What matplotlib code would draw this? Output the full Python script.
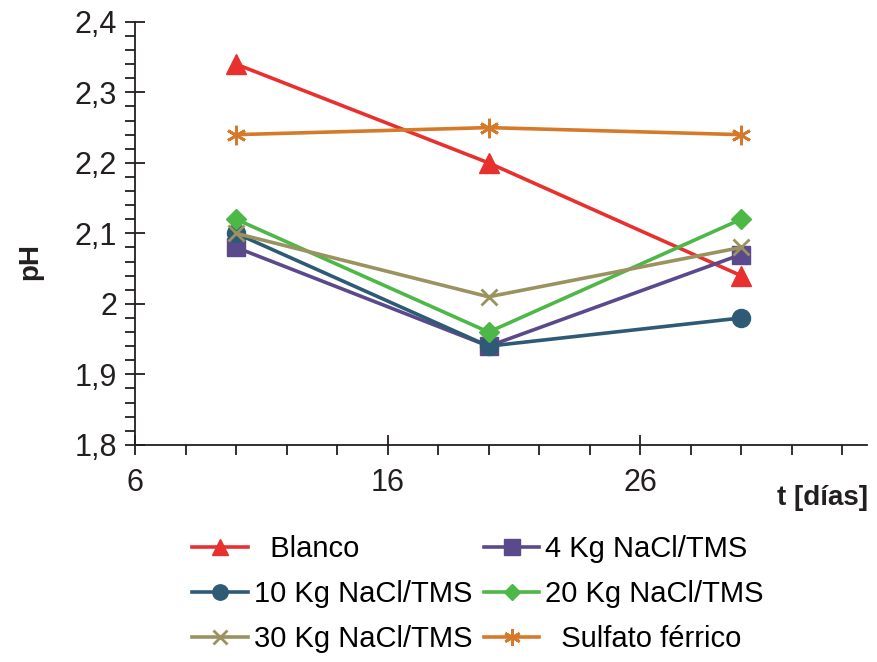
import matplotlib

matplotlib.use("Agg")

import matplotlib.pyplot as plt
import numpy as np
from matplotlib.ticker import FuncFormatter, MultipleLocator

plt.rcParams["font.family"] = ["Liberation Sans", "DejaVu Sans"]

days = [10, 20, 30]
blanco = [2.34, 2.20, 2.04]
nacl_4 = [2.08, 1.94, 2.07]
nacl_10 = [2.10, 1.94, 1.98]
nacl_20 = [2.12, 1.96, 2.12]
nacl_30 = [2.10, 2.01, 2.08]
sulfato = [2.24, 2.25, 2.24]

x_major = [6, 16, 26]

series = [
    ("  Blanco", blanco, "#e8312f", "^", 14),
    ("4 Kg NaCl/TMS", nacl_4, "#5b4a8b", "s", 13),
    ("10 Kg NaCl/TMS", nacl_10, "#2e5a75", "o", 13),
    ("20 Kg NaCl/TMS", nacl_20, "#4db848", "D", 10),
    ("30 Kg NaCl/TMS", nacl_30, "#9a9360", "x", 12),
    ("  Sulfato férrico", sulfato, "#d57a2b", (6, 2, 0), 14),
]

fig = plt.figure(figsize=(8.77, 6.62), dpi=100)
ax = fig.add_axes([0.154, 0.328, 0.835, 0.639])

handles = {}
for label, values, color, marker, size in series:
    (line,) = ax.plot(
        days, values, color=color, marker=marker, markersize=size,
        linewidth=2.6, markeredgewidth=2.0 if marker in ("x", (6, 2, 0)) else 1.0,
        markeredgecolor=color, label=label, clip_on=False,
    )
    handles[label] = line

ax.set_xlim(6, 35)
ax.set_ylim(1.8, 2.4)
ax.set_xticks(x_major)
ax.set_xticks(np.arange(6, 35, 2), minor=True)
ax.yaxis.set_major_locator(MultipleLocator(0.1))
ax.yaxis.set_minor_locator(MultipleLocator(0.02))
ax.yaxis.set_major_formatter(FuncFormatter(lambda v, _: f"{v:g}".replace(".", ",")))

for side in ("top", "right"):
    ax.spines[side].set_visible(False)
for side in ("left", "bottom"):
    ax.spines[side].set_linewidth(1.3)
    ax.spines[side].set_color("#231f20")

ax.tick_params(axis="both", which="major", direction="inout", length=14, width=1.3,
               labelsize=22, colors="#231f20", pad=6)
ax.tick_params(axis="both", which="minor", direction="out", length=7, width=1.3, colors="#231f20")
ax.tick_params(axis="x", which="major", pad=10)

fig.text(0.035, 0.605, "pH", rotation=90, fontsize=20, fontweight="bold",
         ha="center", va="center", color="#231f20")
fig.text(0.99, 0.247, "t [días]", fontsize=20, fontweight="bold",
         ha="right", va="center", color="#231f20")

order = ["  Blanco", "10 Kg NaCl/TMS", "30 Kg NaCl/TMS",
         "4 Kg NaCl/TMS", "20 Kg NaCl/TMS", "  Sulfato férrico"]
fig.legend(
    [handles[k] for k in order], order, ncol=2, frameon=False,
    loc="center", bbox_to_anchor=(0.545, 0.103), fontsize=21,
    handlelength=1.9, handletextpad=0.2, columnspacing=0.4,
    labelspacing=0.58, markerscale=0.85,
)

fig.savefig("out.png")
